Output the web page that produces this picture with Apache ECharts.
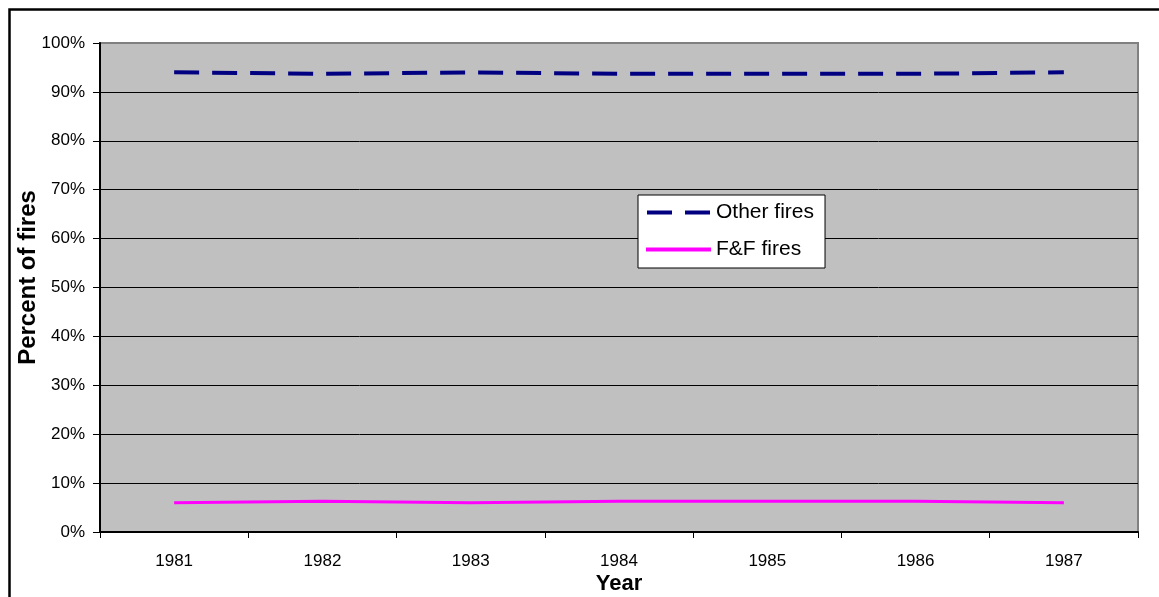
<!DOCTYPE html>
<html>
<head>
<meta charset="utf-8">
<script src="https://cdn.jsdelivr.net/npm/echarts@6/dist/echarts.min.js"></script>
<style>html,body{margin:0;padding:0;background:#fff;}#c{width:1159px;height:597px;}</style>
</head>
<body>
<div id="c"></div>
<script>
var years = ['1981','1982','1983','1984','1985','1986','1987'];
var otherFires = [94.0, 93.7, 94.0, 93.7, 93.7, 93.7, 94.0];
var ffFires = [6.0, 6.3, 6.0, 6.3, 6.3, 6.3, 6.0];
var seriesNames = ['Other fires', 'F&F fires'];

var font = 'Liberation Sans, Arial, sans-serif';
var gridColors = [];
for (var i = 0; i < 10; i++) gridColors.push('#000000');
gridColors.push('#808080');

var chart = echarts.init(document.getElementById('c'), null, {renderer: 'canvas'});
chart.setOption({
  animation: false,
  backgroundColor: '#ffffff',
  textStyle: {fontFamily: font},
  graphic: [{
    type: 'rect', left: 7, top: 7, silent: true, z: 100,
    shape: {width: 1170, height: 620},
    style: {fill: 'none', stroke: '#000', lineWidth: 2.5}
  }],
  grid: {
    left: 100, right: 21, top: 43, bottom: 65,
    outerBoundsMode: 'none', containLabel: false,
    show: true, backgroundColor: '#C0C0C0', borderColor: '#808080', borderWidth: 2
  },
  legend: {
    left: 638, top: 195, orient: 'vertical',
    backgroundColor: '#ffffff', borderColor: '#000', borderWidth: 1,
    padding: [7, 11, 8, 8], itemGap: 16, itemWidth: 65, itemHeight: 4,
    textStyle: {fontFamily: font, fontSize: 21, color: '#000'},
    data: [
      {name: seriesNames[0], icon: 'path://M0,0h25v4h-25z M38,0h25v4h-25z'},
      {name: seriesNames[1], icon: 'path://M0,0h65v4h-65z'}
    ]
  },
  xAxis: {
    type: 'category', data: years, boundaryGap: true,
    name: 'Year', nameLocation: 'middle', nameGap: 41, nameMoveOverlap: false,
    nameTextStyle: {fontFamily: font, fontSize: 22, fontWeight: 'bold', color: '#000'},
    axisLine: {lineStyle: {color: '#000', width: 2}},
    axisTick: {show: true, length: 6, lineStyle: {color: '#000'}},
    axisLabel: {fontFamily: font, fontSize: 17, color: '#000', margin: 21}
  },
  yAxis: {
    type: 'value', min: 0, max: 100, interval: 10,
    name: 'Percent of fires', nameLocation: 'middle', nameGap: 60, nameMoveOverlap: false,
    nameTextStyle: {fontFamily: font, fontSize: 24, fontWeight: 'bold', color: '#000', padding: [0, 0, 0, 20]},
    axisLine: {show: true, lineStyle: {color: '#000', width: 2}},
    axisTick: {show: true, length: 7, lineStyle: {color: '#000'}},
    axisLabel: {fontFamily: font, fontSize: 17, color: '#000', margin: 15, formatter: '{value}%'},
    splitLine: {show: true, lineStyle: {color: gridColors, width: 1}}
  },
  series: [
    {
      name: seriesNames[0], type: 'line', data: otherFires, symbol: 'none',
      color: '#000080',
      lineStyle: {color: '#000080', width: 4, type: [25, 13]}
    },
    {
      name: seriesNames[1], type: 'line', data: ffFires, symbol: 'none',
      color: '#FF00FF',
      lineStyle: {color: '#FF00FF', width: 3}
    }
  ]
});
</script>
</body>
</html>
